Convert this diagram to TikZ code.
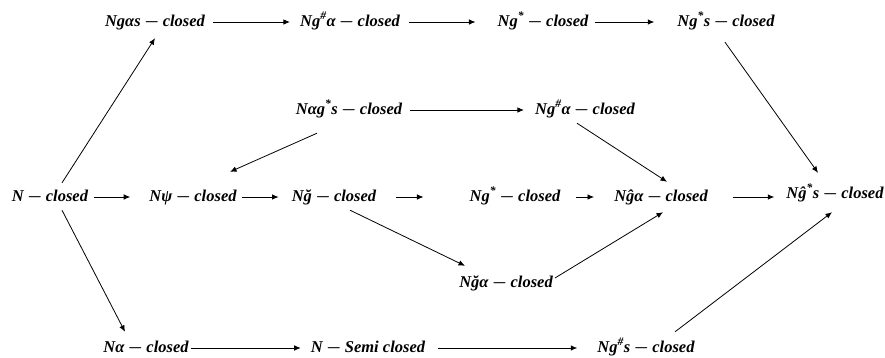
\documentclass[tikz,border=0pt]{standalone}
\usepackage{fontspec}
\setmainfont{Liberation Serif}
\usetikzlibrary{arrows.meta,calc}
\newcommand{\mn}{\hskip0.2em{\boldmath$-$}\hskip0.2em}
\begin{document}
\begin{tikzpicture}[x=1pt,y=-1pt,
  lab/.style={font=\fontsize{16.5}{18}\selectfont\bfseries\itshape, inner sep=0pt, text height=11pt, text depth=3pt},
  arr/.style={-{Latex[length=6.5pt,width=5.5pt]}, line width=0.8pt}]
\useasboundingbox (0,0) rectangle (885,357);
% nodes
\node[lab] (a1) at (155,22) {Ngαs\mn closed};
\node[lab] (a2) at (350,22) {Ng\textsuperscript{\#}α\mn closed};
\node[lab] (a3) at (543,22) {Ng\textsuperscript{*}\mn closed};
\node[lab] (a4) at (726,22) {Ng\textsuperscript{*}s\mn closed};
\node[lab] (b1) at (349,110) {Nαg\textsuperscript{*}s\mn closed};
\node[lab] (b2) at (585,110) {Ng\textsuperscript{\#}α\mn closed};
\node[lab] (c0) at (50,197) {N\mn closed};
\node[lab] (c1) at (193,197) {Nψ\mn closed};
\node[lab] (c2) at (334,197) {Nğ\mn closed};
\node[lab] (c3) at (515,197) {Ng\textsuperscript{*}\mn closed};
\node[lab] (c4) at (661,197) {Nĝα\mn closed};
\node[lab] (c5) at (835,194) {Nĝ\textsuperscript{*}s\mn closed};
\node[lab] (d1) at (506,283) {Nğα\mn closed};
\node[lab] (e1) at (146,348) {Nα\mn closed};
\node[lab] (e2) at (368,348) {N\mn Semi closed};
\node[lab] (e3) at (646,348) {Ng\textsuperscript{\#}s\mn closed};
% horizontal arrows
\draw[arr, shorten <=8pt, shorten >=10pt] (a1.east) -- (a2.west);
\draw[arr, shorten <=9pt, shorten >=22pt] (a2.east) -- (a3.west);
\draw[arr, shorten <=6pt, shorten >=23pt] (a3.east) -- (a4.west);
\draw[arr, shorten <=8pt, shorten >=11pt] (b1.east) -- (b2.west);
\draw[arr, shorten <=6pt, shorten >=19pt] (c0.east) -- (c1.west);
\draw[arr, shorten <=5pt, shorten >=13pt] (c1.east) -- (c2.west);
\draw[arr, shorten <=20pt, shorten >=46pt] (c2.east) -- (c3.west);
\draw[arr, shorten <=15pt, shorten >=20pt] (c3.east) -- (c4.west);
\draw[arr, shorten <=25pt, shorten >=12pt] (c4.east) -- (c5.west |- c4.east);
\draw[arr, shorten <=2pt, shorten >=10pt] (e1.east) -- (e2.west);
\draw[arr, shorten <=13pt, shorten >=20pt] (e2.east) -- (e3.west);
% diagonal arrows
\draw[arr] ($(c0.north)+(12,-7)$) -- ($(a1.south)+(0,9)$);
\draw[arr] ($(c0.south)+(12,6)$) -- ($(e1.north)+(-21,-9)$);
\draw[arr] ($(b1.south)+(-32,16)$) -- ($(c1.north)+(37,-18)$);
\draw[arr] ($(b2.south)+(-8,6)$) -- ($(c4.north)+(6,-8)$);
\draw[arr] ($(a4.south)+(-1,13)$) -- ($(c5.north)+(-17,-14)$);
\draw[arr] ($(c2.south)+(16,6)$) -- ($(d1.north)+(-41,-10)$);
\draw[arr] ($(d1.east)+(2,-5)$) -- ($(c4.south)+(2,8)$);
\draw[arr] ($(e3.north)+(29,-9)$) -- ($(c5.south)+(-3,11)$);
\end{tikzpicture}
\end{document}
